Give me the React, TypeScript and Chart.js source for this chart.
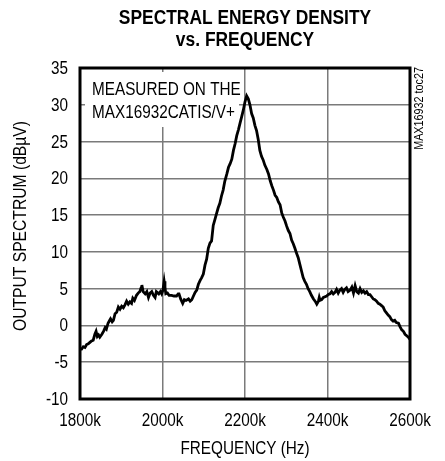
import React, { useEffect, useRef } from "react";
import { Chart, registerables } from "chart.js";

Chart.register(...registerables);

const freqK: number[] = [
  1800, 1804, 1808, 1812, 1816, 1820, 1824, 1828, 1832, 1836, 1839, 1842, 1845, 1848, 1853, 1857,
  1861, 1864, 1868, 1871, 1874, 1878, 1881, 1885, 1889, 1893, 1897, 1901, 1905, 1909, 1913, 1917,
  1921, 1925, 1928, 1932, 1937, 1941, 1945, 1948, 1950, 1953, 1958, 1962, 1966, 1970, 1974, 1978,
  1982, 1985, 1987, 1991, 1995, 1998, 2001, 2004, 2006, 2008, 2012, 2016, 2022, 2028, 2034, 2038,
  2040, 2044, 2049, 2053, 2057, 2063, 2067, 2071, 2075, 2079, 2083, 2087, 2091, 2095, 2099, 2103,
  2107, 2111, 2115, 2119, 2123, 2127, 2131, 2135, 2139, 2143, 2147, 2151, 2156, 2160, 2164, 2168,
  2172, 2176, 2180, 2184, 2188, 2192, 2196, 2200, 2204, 2208, 2212, 2216, 2220, 2224, 2228, 2232,
  2236, 2240, 2244, 2248, 2253, 2257, 2261, 2265, 2269, 2273, 2277, 2281, 2285, 2289, 2293, 2297,
  2301, 2305, 2309, 2313, 2317, 2321, 2325, 2329, 2333, 2337, 2341, 2345, 2349, 2353, 2357, 2361,
  2366, 2370, 2374, 2378, 2380, 2382, 2386, 2390, 2394, 2398, 2402, 2406, 2410, 2414, 2418, 2422,
  2426, 2430, 2434, 2438, 2442, 2446, 2450, 2455, 2459, 2463, 2467, 2471, 2475, 2479, 2483, 2487,
  2491, 2495, 2499, 2503, 2507, 2511, 2515, 2519, 2523, 2527, 2531, 2535, 2539, 2543, 2547, 2551,
  2555, 2559, 2563, 2567, 2572, 2576, 2580, 2584, 2588, 2592, 2596, 2600,
];

const spectrumDbuV: number[] = [
  -3.2, -3.2, -2.9, -3.0, -2.6, -2.5, -2.3, -2.1, -2.0, -1.2, -0.8, -1.5, -1.3, -1.6, -1.2, -0.8,
  -0.3, -0.5, 0.3, 0.6, 0.9, 0.5, 0.7, 1.6, 1.8, 2.5, 2.2, 2.6, 2.4, 2.8, 3.3, 2.9,
  3.2, 3.0, 3.7, 3.4, 4.1, 4.4, 4.6, 5.1, 5.5, 4.6, 4.3, 4.6, 3.8, 4.4, 4.6, 4.1,
  3.8, 4.6, 4.5, 4.3, 4.6, 4.3, 4.8, 6.0, 5.2, 4.3, 4.4, 4.1, 4.1, 4.0, 4.0, 4.3,
  4.3, 3.6, 3.0, 3.5, 3.4, 3.6, 3.3, 3.5, 4.0, 4.5, 4.8, 5.6, 6.1, 6.5, 7.0, 8.2,
  9.0, 10.5, 11.2, 11.5, 13.6, 14.4, 15.2, 16.0, 16.6, 17.6, 18.4, 19.6, 20.6, 21.5, 22.0, 22.6,
  23.8, 24.7, 25.8, 26.6, 27.5, 28.4, 29.3, 30.4, 31.2, 30.8, 30.0, 28.8, 28.2, 27.2, 26.5, 25.3,
  23.8, 23.0, 22.5, 21.8, 21.2, 20.6, 19.7, 19.0, 18.4, 17.7, 17.4, 16.8, 16.4, 15.3, 14.7, 14.2,
  13.5, 12.9, 12.5, 11.6, 11.1, 10.5, 9.8, 9.2, 8.3, 7.4, 6.5, 6.0, 5.6, 5.0, 4.6, 4.1,
  3.6, 3.3, 2.9, 3.3, 3.8, 3.4, 3.5, 3.8, 3.9, 4.0, 4.2, 4.3, 4.6, 4.3, 4.5, 4.9,
  4.4, 4.8, 5.0, 4.5, 4.9, 5.1, 4.6, 4.8, 5.2, 4.4, 5.4, 4.6, 4.4, 5.0, 4.5, 4.7,
  4.4, 4.6, 4.2, 4.2, 3.9, 3.6, 3.5, 3.3, 3.0, 2.9, 2.7, 2.5, 2.0, 1.7, 1.4, 1.2,
  0.8, 0.6, 0.7, 0.4, 0.3, -0.2, -0.6, -0.8, -1.2, -1.4, -1.6, -1.9,
];

const titleLines: string[] = ["SPECTRAL ENERGY DENSITY", "vs. FREQUENCY"];
const xAxisTitle = "FREQUENCY (Hz)";
const yAxisTitle = "OUTPUT SPECTRUM (dBµV)";
const noteLines: string[] = ["MEASURED ON THE", "MAX16932CATIS/V+"];
const sideNote = "MAX16932 toc27";
const xTickSuffix = "k";

const FONT = "'Liberation Sans', Arial, sans-serif";
const SQUEEZE = 0.85;

function narrowText(
  ctx: CanvasRenderingContext2D,
  text: string,
  x: number,
  y: number,
  align: CanvasTextAlign,
  font: string,
  rotate = 0,
  squeeze = SQUEEZE
) {
  ctx.save();
  ctx.translate(x, y);
  if (rotate) ctx.rotate(rotate);
  ctx.scale(squeeze, 1);
  ctx.font = font;
  ctx.textAlign = align;
  ctx.textBaseline = "middle";
  ctx.fillStyle = "#000";
  ctx.fillText(text, 0, 0);
  ctx.restore();
}

const decorPlugin = {
  id: "decor",
  beforeDatasetsDraw(chart: any) {
    const { ctx, chartArea } = chart;
    ctx.save();
    ctx.fillStyle = "#fff";
    ctx.fillRect(chartArea.left + 5, chartArea.top + 4, 154, 55);
    ctx.restore();
    const f = `18px ${FONT}`;
    narrowText(ctx, noteLines[0], chartArea.left + 12, chartArea.top + 22, "left", f);
    narrowText(ctx, noteLines[1], chartArea.left + 12, chartArea.top + 45, "left", f);
  },
  afterDraw(chart: any) {
    const { ctx, chartArea } = chart;
    ctx.save();
    ctx.strokeStyle = "#000";
    ctx.lineWidth = 3;
    ctx.strokeRect(chartArea.left, chartArea.top, chartArea.right - chartArea.left, chartArea.bottom - chartArea.top);
    ctx.restore();

    const cx = (chartArea.left + chartArea.right) / 2;
    const tf = `bold 20px ${FONT}`;
    narrowText(ctx, titleLines[0], cx, 18, "center", tf, 0, 0.87);
    narrowText(ctx, titleLines[1], cx, 40, "center", tf, 0, 0.87);

    const f = `18px ${FONT}`;
    const xs = chart.scales.x;
    xs.ticks.forEach((t: any) => {
      narrowText(ctx, `${t.value}${xTickSuffix}`, xs.getPixelForValue(t.value), 421, "center", f);
    });
    const ys = chart.scales.y;
    ys.ticks.forEach((t: any) => {
      narrowText(ctx, `${t.value}`, chartArea.left - 12, ys.getPixelForValue(t.value) + 1, "right", f);
    });

    narrowText(ctx, xAxisTitle, cx, 449, "center", f);
    narrowText(ctx, yAxisTitle, 21, 226, "center", f, -Math.PI / 2, 0.87);
    narrowText(ctx, sideNote, 420, chartArea.top - 1, "right", `12px ${FONT}`, -Math.PI / 2, 0.9);
  },
};

export default function App() {
  const ref = useRef<HTMLCanvasElement | null>(null);
  useEffect(() => {
    if (!ref.current) return;
    const points = freqK.map((f, i) => ({ x: f, y: spectrumDbuV[i] }));
    const chart = new Chart(ref.current, {
      type: "line",
      data: {
        datasets: [
          {
            data: points,
            borderColor: "#000",
            borderWidth: 2.8,
            pointRadius: 0,
            tension: 0,
            fill: false,
          },
        ],
      },
      options: {
        animation: false,
        responsive: false,
        maintainAspectRatio: false,
        layout: { padding: { top: 68, right: 35, left: 0, bottom: 0 } },
        plugins: { legend: { display: false }, title: { display: false }, tooltip: { enabled: false } },
        scales: {
          x: {
            type: "linear",
            min: 1800,
            max: 2600,
            afterFit: (s: any) => {
              s.height = 62;
            },
            ticks: { stepSize: 200, display: false, autoSkip: false },
            grid: { color: "#7a7a7a", lineWidth: 1.5, drawTicks: false },
            border: { display: false },
          },
          y: {
            min: -10,
            max: 35,
            afterFit: (s: any) => {
              s.width = 80;
            },
            ticks: { stepSize: 5, display: false },
            grid: { color: "#7a7a7a", lineWidth: 1.5, drawTicks: false },
            border: { display: false },
          },
        },
      },
      plugins: [decorPlugin],
    });
    return () => chart.destroy();
  }, []);
  return (
    <div style={{ position: "fixed", left: 0, top: 0, width: 445, height: 461, background: "#fff" }}>
      <canvas ref={ref} width={445} height={461} />
    </div>
  );
}
